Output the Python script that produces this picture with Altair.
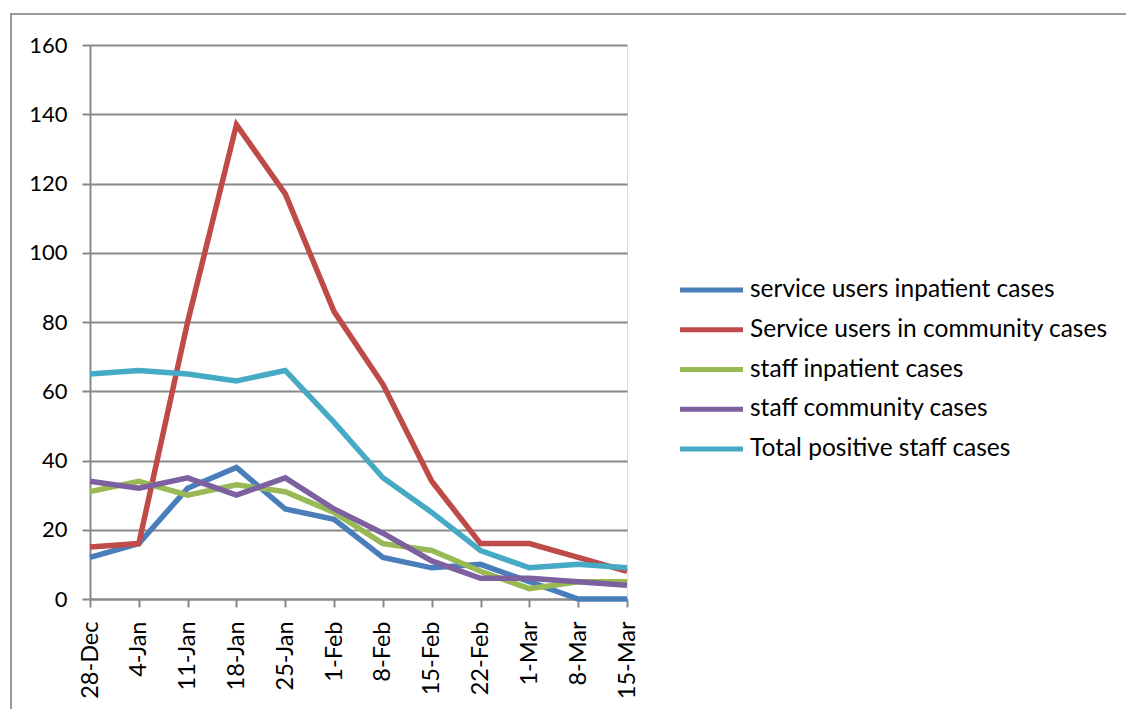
import altair as alt
import pandas as pd

weeks = ["28-Dec", "4-Jan", "11-Jan", "18-Jan", "25-Jan", "1-Feb", "8-Feb",
         "15-Feb", "22-Feb", "1-Mar", "8-Mar", "15-Mar"]

series_names = [
    "service users inpatient cases",
    "Service users in community cases",
    "staff inpatient cases",
    "staff community cases",
    "Total positive staff cases",
]

su_inpatient = [12, 16, 32, 38, 26, 23, 12, 9, 10, 5, 0, 0]
su_community = [15, 16, 80, 137, 117, 83, 62, 34, 16, 16, 12, 8]
staff_inpatient = [31, 34, 30, 33, 31, 25, 16, 14, 8, 3, 5, 5]
staff_community = [34, 32, 35, 30, 35, 26, 19, 11, 6, 6, 5, 4]
staff_total = [65, 66, 65, 63, 66, 51, 35, 25, 14, 9, 10, 9]

colors = ["#4A7EBB", "#BE4B48", "#98B954", "#7D60A0", "#46AAC5"]

rows = []
for name, vals in zip(series_names,
                      [su_inpatient, su_community, staff_inpatient, staff_community, staff_total]):
    for w, v in zip(weeks, vals):
        rows.append({"week": w, "series": name, "cases": v})
df = pd.DataFrame(rows)
legend_df = pd.DataFrame({"series": series_names})

FONT = "Lato"
color_scale = alt.Scale(domain=series_names, range=colors)

lines = alt.Chart(df).mark_line(strokeWidth=5.5, strokeJoin="miter").encode(
    x=alt.X("week:N", sort=weeks, title=None,
            scale=alt.Scale(type="point", padding=0),
            axis=alt.Axis(labelAngle=-90, labelAlign="right", labelBaseline="middle",
                          labelFontSize=23.5, labelFont=FONT, labelColor="#000000",
                          labelPadding=14, tickSize=8, tickColor="#888888", tickWidth=2,
                          domainColor="#888888", domainWidth=2, grid=False)),
    y=alt.Y("cases:Q", title=None,
            scale=alt.Scale(domain=[0, 160], nice=False),
            axis=alt.Axis(values=list(range(0, 161, 20)), labelFontSize=22, labelFont=FONT,
                          labelColor="#000000", labelPadding=15, tickSize=8,
                          tickColor="#888888", tickWidth=2, domainColor="#888888",
                          domainWidth=2, grid=True, gridColor="#888888", gridWidth=2)),
    color=alt.Color("series:N", sort=series_names, scale=color_scale, legend=None),
)

# Legend drawn as marks: rows placed by a point scale over the series names
legend_y = alt.Y("series:N", sort=series_names, title=None, axis=None,
                 scale=alt.Scale(type="point", domain=series_names, range=[245, 404], padding=0))

legend_symbols = alt.Chart(legend_df).mark_rule(strokeWidth=5, strokeCap="butt").encode(
    x=alt.value(590), x2=alt.value(653), y=legend_y,
    color=alt.Color("series:N", scale=color_scale, legend=None),
)

legend_labels = alt.Chart(legend_df).mark_text(
    align="left", baseline="middle", fontSize=24.5, font=FONT, color="#000000"
).encode(x=alt.value(660), y=legend_y, text="series:N")

border = alt.Chart(pd.DataFrame({"a": [0]})).mark_rect(
    fill=None, stroke="#999999", strokeWidth=2
).encode(x=alt.value(-79), x2=alt.value(1060), y=alt.value(-31), y2=alt.value(700))

chart = alt.layer(border, lines, legend_symbols, legend_labels).resolve_scale(
    y="independent"
).properties(
    width=537, height=554,
    autosize=alt.AutoSizeParams(type="none"),
    padding={"left": 90, "top": 45, "right": 499, "bottom": 110},
).configure_view(stroke=None).configure(background="#ffffff")

chart.save("out.html", embed_options={"renderer": "svg", "actions": False})
